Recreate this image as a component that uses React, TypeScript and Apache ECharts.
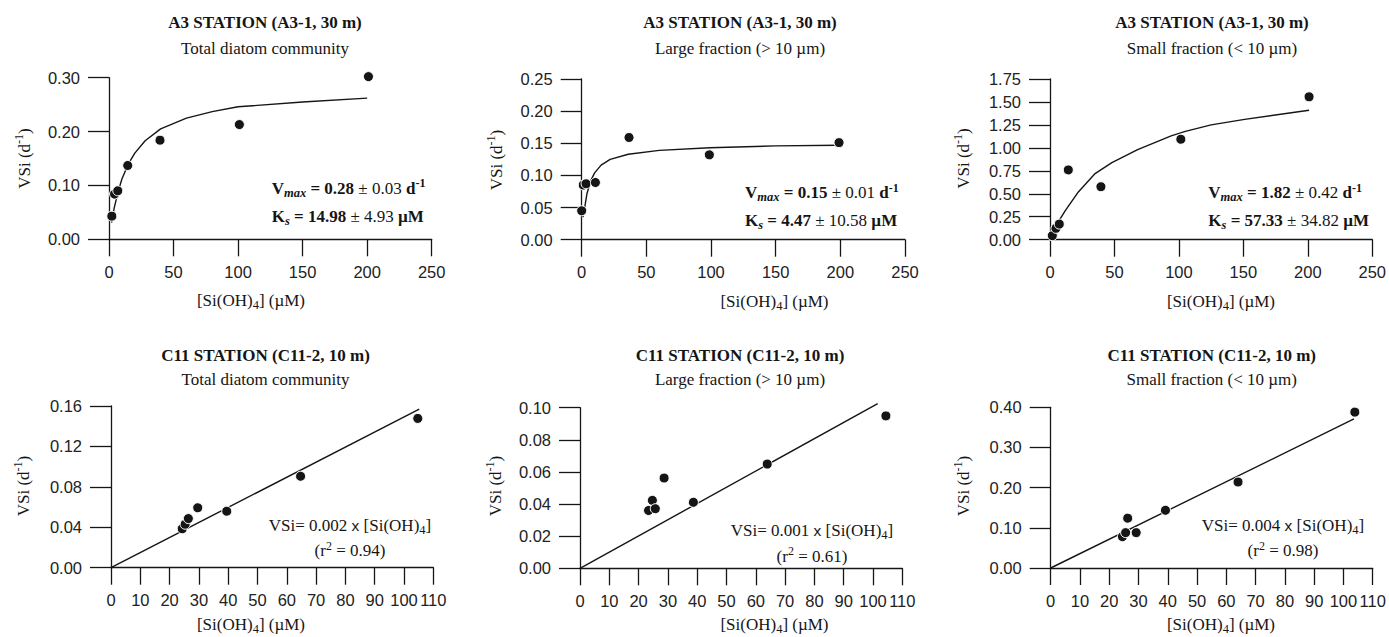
import React, { useEffect, useRef } from "react";
import * as echarts from "echarts";

// ---------- data ----------
// A3 station, 30 m
const a3TotalSi = [2.2, 4.3, 6.8, 14.5, 39.5, 101, 201];
const a3TotalV = [0.043, 0.084, 0.09, 0.137, 0.184, 0.213, 0.302];
const a3TotalFitSi = [2, 4, 7, 10, 15, 20, 28, 40, 60, 80, 100, 150, 200];
const a3TotalFitV = [0.031, 0.058, 0.088, 0.112, 0.14, 0.16, 0.183, 0.205, 0.225, 0.237, 0.246, 0.255, 0.262];

const a3LargeSi = [0, 1.2, 3.4, 10.6, 36.6, 98.7, 199];
const a3LargeV = [0.045, 0.085, 0.087, 0.089, 0.159, 0.132, 0.151];
const a3LargeFitSi = [1, 2, 4, 7, 10, 15, 22, 36, 60, 99, 150, 199];
const a3LargeFitV = [0.035, 0.046, 0.071, 0.092, 0.104, 0.116, 0.125, 0.133, 0.139, 0.143, 0.146, 0.147];

const a3SmallSi = [1.8, 4.6, 7.2, 14.2, 39.5, 101.5, 201];
const a3SmallV = [0.044, 0.124, 0.17, 0.76, 0.577, 1.094, 1.556];
const a3SmallFitSi = [2, 5, 8, 12, 22, 35, 48, 68, 94, 105, 125, 151, 201];
const a3SmallFitV = [0.06, 0.15, 0.23, 0.32, 0.52, 0.72, 0.84, 0.98, 1.13, 1.18, 1.25, 1.31, 1.41];

// C11 station, 10 m
const c11TotalSi = [24.3, 25.3, 26.4, 29.6, 39.5, 64.7, 104.7];
const c11TotalV = [0.0385, 0.043, 0.0486, 0.0593, 0.0559, 0.0905, 0.1477];
const c11TotalFitSi = [0, 105.2];
const c11TotalFitV = [0, 0.157];

const c11LargeSi = [23.4, 24.7, 25.7, 28.7, 38.7, 63.9, 104.4];
const c11LargeV = [0.036, 0.0423, 0.0371, 0.0562, 0.0411, 0.0649, 0.0949];
const c11LargeFitSi = [0, 101.6];
const c11LargeFitV = [0, 0.1025];

const c11SmallSi = [24.5, 25.6, 26.3, 29.2, 39.2, 64, 103.9];
const c11SmallV = [0.078, 0.088, 0.124, 0.088, 0.1437, 0.214, 0.388];
const c11SmallFitSi = [0, 103.6];
const c11SmallFitV = [0, 0.371];

// axes
const xMax = [250, 250, 250, 110, 110, 110];
const xStep = [50, 50, 50, 10, 10, 10];
const yMax = [0.3, 0.25, 1.75, 0.16, 0.1, 0.4];
const yStep = [0.1, 0.05, 0.25, 0.04, 0.02, 0.1];

// texts
const titles = [
  "A3 STATION (A3-1, 30 m)",
  "A3 STATION (A3-1, 30 m)",
  "A3 STATION (A3-1, 30 m)",
  "C11 STATION (C11-2, 10 m)",
  "C11 STATION (C11-2, 10 m)",
  "C11 STATION (C11-2, 10 m)",
];
const subtitles = [
  "Total diatom community",
  "Large fraction (> 10 µm)",
  "Small fraction (< 10 µm)",
  "Total diatom community",
  "Large fraction (> 10 µm)",
  "Small fraction (< 10 µm)",
];
const vmaxTexts = [
  ["0.28", "0.03"],
  ["0.15", "0.01"],
  ["1.82", "0.42"],
];
const ksTexts = [
  ["14.98", "4.93"],
  ["4.47", "10.58"],
  ["57.33", "34.82"],
];
const slopeTexts = ["0.002", "0.001", "0.004"];
const r2Texts = ["0.94", "0.61", "0.98"];

// ---------- layout ----------
const GRIDS = [
  { left: 109, top: 77.7, width: 322.7, height: 161.6 },
  { left: 581.7, top: 79, width: 323.3, height: 160.7 },
  { left: 1050, top: 79, width: 322.7, height: 160.7 },
  { left: 111, top: 406, width: 322.3, height: 161.7 },
  { left: 580, top: 407.7, width: 322.3, height: 160.6 },
  { left: 1050.7, top: 407.3, width: 322, height: 160.7 },
];
const titleX = [265, 740, 1212, 265.5, 740, 1211.7];
const titleY = [22.7, 22.7, 22.7, 355, 355, 355];
const subY = [48.3, 48.3, 48.3, 379.3, 379.3, 379.3];
const xNameX = [251, 774.5, 1221, 251, 774.5, 1221];
const xNameY = [300.5, 301.5, 301.5, 624.5, 624.5, 624.5];
const yNameX = [24, 496, 963.3, 23.3, 495, 963.3];
const yNameY = [158.5, 160, 158.5, 486, 486, 486];
const mmX = [271.7, 745, 1208.3];
const mmY1 = [188.3, 192.7, 192.7];
const mmY2 = [216, 220, 220];
const linX = [350, 812, 1283];
const linY1 = [525, 530, 525];
const linY2 = [550.7, 556, 550.7];

const SERIF = "'Liberation Serif', 'Times New Roman', serif";
const SANS = "'Liberation Sans', Arial, sans-serif";
const INK = "#151515";

const rich = {
  b: { fontFamily: SERIF, fontSize: 17, fontWeight: "bold", lineHeight: 22 },
  r: { fontFamily: SERIF, fontSize: 17, lineHeight: 22 },
  subi: { fontFamily: SERIF, fontSize: 12.5, fontStyle: "italic", fontWeight: "bold", lineHeight: 10, verticalAlign: "bottom" },
  supb: { fontFamily: SERIF, fontSize: 12, fontWeight: "bold", lineHeight: 11, verticalAlign: "top" },
  sup: { fontFamily: SERIF, fontSize: 12, lineHeight: 11, verticalAlign: "top" },
  sub: { fontFamily: SERIF, fontSize: 12.5, lineHeight: 11, verticalAlign: "bottom" },
  sans: { fontFamily: SANS, fontSize: 15.5, lineHeight: 22 },
};

function txt(x: number, y: number, text: string, opts: any = {}) {
  const align = opts.align || "center";
  return {
    type: "text",
    x,
    y,
    rotation: opts.rotation || 0,
    silent: true,
    style: {
      text,
      fill: INK,
      fontFamily: SERIF,
      fontSize: 17,
      fontWeight: opts.bold ? "bold" : "normal",
      lineHeight: 22,
      align,
      textAlign: align,
      verticalAlign: "middle",
      textVerticalAlign: "middle",
      rich,
    },
  };
}

const zip = (a: number[], b: number[]) => a.map((v, i) => [v, b[i]]);

export default function App() {
  const ref = useRef<HTMLDivElement>(null);

  useEffect(() => {
    if (!ref.current) return;
    const chart = echarts.init(ref.current, undefined, { renderer: "svg" });

    const points = [
      zip(a3TotalSi, a3TotalV),
      zip(a3LargeSi, a3LargeV),
      zip(a3SmallSi, a3SmallV),
      zip(c11TotalSi, c11TotalV),
      zip(c11LargeSi, c11LargeV),
      zip(c11SmallSi, c11SmallV),
    ];
    const fits = [
      zip(a3TotalFitSi, a3TotalFitV),
      zip(a3LargeFitSi, a3LargeFitV),
      zip(a3SmallFitSi, a3SmallFitV),
      zip(c11TotalFitSi, c11TotalFitV),
      zip(c11LargeFitSi, c11LargeFitV),
      zip(c11SmallFitSi, c11SmallFitV),
    ];

    const axisLine = { show: true, onZero: false, lineStyle: { color: INK, width: 1.3 } };

    const xAxis = GRIDS.map((_, i) => ({
      type: "value",
      gridIndex: i,
      min: 0,
      max: xMax[i],
      interval: xStep[i],
      axisLine,
      axisTick: { show: true, inside: false, length: 17, lineStyle: { color: INK, width: 1.3 } },
      axisLabel: { margin: 24, fontSize: 16.5, fontFamily: SANS, color: "#222", formatter: (v: number) => String(Math.round(v)) },
      splitLine: { show: false },
    }));
    const yAxis = GRIDS.map((_, i) => ({
      type: "value",
      gridIndex: i,
      min: 0,
      max: yMax[i],
      interval: yStep[i],
      axisLine,
      axisTick: { show: true, inside: false, length: 21, lineStyle: { color: INK, width: 1.3 } },
      axisLabel: { margin: 29, fontSize: 16.5, fontFamily: SANS, color: "#222", formatter: (v: number) => v.toFixed(2) },
      splitLine: { show: false },
    }));

    const series: any[] = [];
    GRIDS.forEach((_, i) => {
      series.push({
        type: "line",
        xAxisIndex: i,
        yAxisIndex: i,
        data: fits[i],
        symbol: "none",
        showSymbol: false,
        smooth: false,
        clip: false,
        lineStyle: { color: INK, width: 1.4 },
        z: 2,
      });
      series.push({
        type: "scatter",
        xAxisIndex: i,
        yAxisIndex: i,
        data: points[i],
        symbol: "circle",
        symbolSize: 10,
        clip: false,
        itemStyle: { color: INK, borderColor: "#fff", borderWidth: 1, opacity: 1 },
        z: 3,
      });
    });

    const graphics: any[] = [];
    for (let i = 0; i < 6; i++) {
      graphics.push(txt(titleX[i], titleY[i], titles[i], { bold: true }));
      graphics.push(txt(titleX[i], subY[i], subtitles[i]));
      graphics.push(txt(xNameX[i], xNameY[i], "[Si(OH){sub|4}] (µM)"));
      graphics.push(txt(yNameX[i], yNameY[i], "VSi (d{sup|-1})", { rotation: Math.PI / 2 }));
    }
    for (let i = 0; i < 3; i++) {
      graphics.push(
        txt(mmX[i], mmY1[i], `{b|V}{subi|max}{b| = ${vmaxTexts[i][0]}}{r| ± ${vmaxTexts[i][1]} }{b|d}{supb|-1}`, { align: "left" })
      );
      graphics.push(
        txt(mmX[i], mmY2[i], `{b|K}{subi|s}{b| = ${ksTexts[i][0]}}{r| ± ${ksTexts[i][1]} }{b|µM}`, { align: "left" })
      );
      graphics.push(txt(linX[i], linY1[i], `VSi= ${slopeTexts[i]} {sans|x} [Si(OH){sub|4}]`));
      graphics.push(txt(linX[i], linY2[i], `(r{sup|2} = ${r2Texts[i]})`));
    }

    chart.setOption({
      animation: false,
      backgroundColor: "#ffffff",
      grid: GRIDS.map((g) => ({ ...g, containLabel: false })),
      xAxis,
      yAxis,
      series,
      graphic: graphics,
    });

    return () => chart.dispose();
  }, []);

  return (
    <div
      ref={ref}
      style={{ position: "fixed", left: 0, top: 0, width: 1389, height: 637, background: "#fff" }}
    />
  );
}
